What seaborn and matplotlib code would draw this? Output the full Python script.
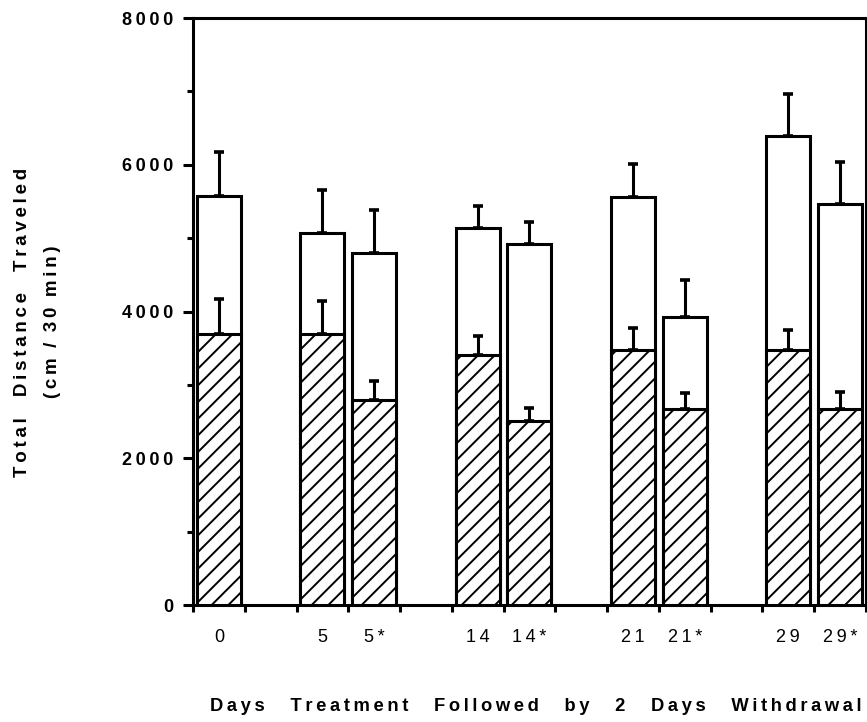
import numpy as np
import pandas as pd
import matplotlib
matplotlib.use("Agg")
import matplotlib.pyplot as plt
import seaborn as sns

# Days of treatment (asterisk = after 2 days of withdrawal)
days = ["0", "5", "5*", "14", "14*", "21", "21*", "29", "29*"]
# Total distance traveled (open bars), mean and SEM, cm / 30 min
total_mean = [5580, 5070, 4800, 5140, 4920, 5560, 3930, 6390, 5460]
total_sem = [595, 585, 585, 295, 300, 450, 500, 570, 580]
# Hatched component, mean and SEM
hatched_mean = [3700, 3700, 2790, 3410, 2510, 3470, 2670, 3480, 2670]
hatched_sem = [470, 450, 260, 250, 170, 310, 215, 270, 240]

# category slots, with empty slots separating treatment groups
order = ["0", " ", "5", "5*", "  ", "14", "14*", "   ",
         "21", "21*", "    ", "29", "29*"]

THIN = "\u2009"


def spaced(text, word_gap=3):
    """Letter-spaced text in the typewriter style of the figure."""
    words = text.split(" ")
    return (" " * word_gap).join(THIN.join(w) for w in words)


df = pd.DataFrame({"day": days, "total": total_mean, "hatched": hatched_mean})

sns.set_style("ticks")
plt.rcParams["font.family"] = ["Liberation Sans", "DejaVu Sans"]
plt.rcParams["hatch.linewidth"] = 1.4
plt.rcParams["hatch.color"] = "black"
for key in ["text.color", "axes.labelcolor", "xtick.color", "ytick.color",
            "axes.edgecolor"]:
    plt.rcParams[key] = "black"

fig = plt.figure(figsize=(8.67, 7.22), dpi=100)
ax = fig.add_axes([0.2226, 0.162, 0.7762, 0.813])

lw = 2.2
sns.barplot(data=df, x="day", y="total", order=order, color="white",
            saturation=1, edgecolor="black", linewidth=lw, width=0.85,
            errorbar=None, ax=ax, zorder=2)
sns.barplot(data=df, x="day", y="hatched", order=order, color="white",
            saturation=1, edgecolor="black", linewidth=lw, width=0.85,
            errorbar=None, ax=ax, zorder=4)
for bar in ax.containers[1]:
    bar.set_hatch("//")

pos = np.array([order.index(d) for d in days])
ax.errorbar(pos, total_mean, yerr=[np.zeros(len(days)), total_sem],
            fmt="none", ecolor="black", elinewidth=lw, capsize=3.6,
            capthick=2.6, zorder=3)
ax.errorbar(pos, hatched_mean, yerr=[np.zeros(len(days)), hatched_sem],
            fmt="none", ecolor="black", elinewidth=lw, capsize=3.6,
            capthick=2.6, zorder=5)

ax.set_xlim(-0.5, len(order) - 0.5)
ax.set_ylim(0, 8000)

for sp in ax.spines.values():
    sp.set_visible(True)
    sp.set_linewidth(lw)
    sp.set_color("black")

# y axis: labelled every 2000, plain ticks every 1000
yticks = [0, 2000, 4000, 6000, 8000]
ax.set_yticks(yticks)
ax.set_yticklabels([spaced(str(v)) for v in yticks], fontweight="bold")
ax.set_yticks([1000, 3000, 5000, 7000], minor=True)
ax.tick_params(axis="y", which="major", length=7, width=lw, pad=7,
               labelsize=13, direction="out")
ax.tick_params(axis="y", which="minor", length=4.5, width=lw, direction="out")

# x axis: ticks at slot boundaries, labels centred in slots
ax.set_xticks(np.arange(-0.5, len(order), 1.0))
ax.set_xticklabels([])
ax.set_xticks(pos, minor=True)
ax.set_xticklabels([spaced(d) for d in days], minor=True)
ax.tick_params(axis="x", which="major", length=5, width=lw, direction="out")
ax.tick_params(axis="x", which="minor", length=0, pad=17, labelsize=13)

ax.set_xlabel(spaced("Days Treatment Followed by 2 Days Withdrawal", word_gap=5),
              fontsize=13.2, fontweight="bold")
ax.xaxis.set_label_coords(0.51, -0.158)
ax.set_ylabel(spaced("Total Distance Traveled", word_gap=4) + "\n" +
              spaced("(cm / 30 min)", word_gap=2),
              fontsize=13.5, fontweight="bold", linespacing=2.0)
ax.yaxis.set_label_coords(-0.196, 0.482)

fig.savefig("out.png", dpi=100)
